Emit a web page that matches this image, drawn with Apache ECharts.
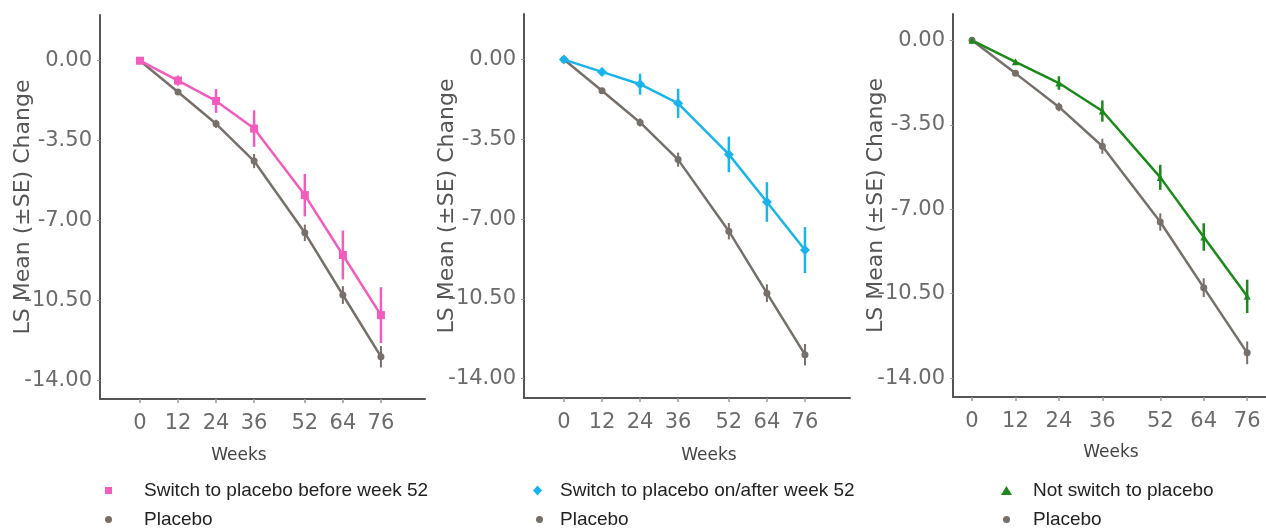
<!DOCTYPE html>
<html>
<head>
<meta charset="utf-8">
<title>LS Mean change from baseline by week</title>
<script src="https://cdn.jsdelivr.net/npm/echarts@6/dist/echarts.min.js"></script>
<style>
  html, body { margin: 0; padding: 0; background: #fff; }
  #chart { width: 1266px; height: 532px; }
</style>
</head>
<body>
<div id="chart"></div>
<script>
// weeks on the x axis, ticks on the y axis
const weeks = [0, 12, 24, 36, 52, 64, 76]
const yTicks = [0, -3.5, -7, -10.5, -14]

// placebo group (same in all three panels)
const placeboMean = [0, -1.37, -2.76, -4.39, -7.53, -10.25, -12.95]
const placeboSE = [0, 0.09, 0.18, 0.31, 0.36, 0.39, 0.47]

// switch to placebo before week 52
const beforeMean = [0, -0.87, -1.76, -2.97, -5.88, -8.5, -11.13]
const beforeSE = [0, 0.22, 0.52, 0.8, 0.93, 1.07, 1.22]

// switch to placebo on/after week 52
const afterMean = [0, -0.54, -1.08, -1.92, -4.16, -6.25, -8.36]
const afterSE = [0, 0.18, 0.46, 0.64, 0.78, 0.87, 1.01]

// not switch to placebo
const notMean = [0, -0.89, -1.77, -2.93, -5.68, -8.15, -10.61]
const notSE = [0, 0.08, 0.28, 0.44, 0.52, 0.57, 0.69]

const GRAY = '#776f6a'
const PINK = '#f25cbd'
const BLUE = '#1ab4ec'
const GREEN = '#1b8a1b'
const tickFont = 'DejaVu Sans, Verdana, sans-serif'
const legendFont = 'Liberation Sans, Arial, sans-serif'

function makeGrid(left, top, width, height) {
  return { left, top, width, height, outerBoundsMode: 'none' }
}

function makeX(idx, min, max) {
  return {
    type: 'value', gridIndex: idx, min, max,
    splitLine: { show: false },
    axisLine: { show: true, onZero: false, lineStyle: { color: '#555', width: 2 } },
    axisTick: { show: true, customValues: weeks, length: 4, lineStyle: { color: '#999', width: 1.5 } },
    axisLabel: { customValues: weeks, margin: 14, color: '#6b6b6b', fontSize: 21, fontFamily: tickFont }
  }
}

function makeY(idx, min, max) {
  return {
    type: 'value', gridIndex: idx, min, max,
    name: 'LS Mean (±SE) Change',
    nameLocation: 'middle',
    nameGap: 66,
    nameMoveOverlap: false,
    nameTextStyle: { fontSize: 22, color: '#555', fontFamily: tickFont },
    splitLine: { show: false },
    axisLine: { show: true, onZero: false, lineStyle: { color: '#555', width: 2 } },
    axisTick: { show: true, customValues: yTicks, length: 3, lineStyle: { color: '#999' } },
    axisLabel: {
      customValues: yTicks, margin: 8, color: '#6b6b6b', fontSize: 21, fontFamily: tickFont,
      formatter: v => v.toFixed(2)
    }
  }
}

function lineSeries(name, idx, means, color, symbol, size) {
  return {
    name, type: 'line', xAxisIndex: idx, yAxisIndex: idx,
    data: weeks.map((w, i) => [w, means[i]]),
    symbol, symbolSize: size,
    itemStyle: { color },
    lineStyle: { color, width: 2.5 },
    z: 3
  }
}

function errorSeries(idx, means, se, color, width) {
  return {
    type: 'custom', xAxisIndex: idx, yAxisIndex: idx, silent: true,
    data: weeks.map((w, i) => [w, means[i] - se[i], means[i] + se[i]]),
    renderItem(params, api) {
      const lo = api.coord([api.value(0), api.value(1)])
      const hi = api.coord([api.value(0), api.value(2)])
      return {
        type: 'line',
        shape: { x1: lo[0], y1: lo[1], x2: hi[0], y2: hi[1] },
        style: { stroke: color, lineWidth: width }
      }
    },
    z: 2
  }
}

// one legend per row so the rows stay stacked
function legendRow(left, top, textX, name, icon, w, h) {
  return {
    left, top, padding: 0,
    itemWidth: w, itemHeight: h,
    selectedMode: false,
    textStyle: {
      fontSize: 19, color: '#222', fontFamily: legendFont,
      padding: [0, 0, 0, textX - left - w - 5]
    },
    data: [{ name, icon }]
  }
}

function weeksLabel(x, y) {
  return {
    type: 'text', x, y,
    style: { text: 'Weeks', fontSize: 17, fill: '#444', fontFamily: tickFont, align: 'center', verticalAlign: 'middle' }
  }
}

const chart = echarts.init(document.getElementById('chart'))
chart.setOption({
  animation: false,
  grid: [
    makeGrid(100, 15, 325, 384),
    makeGrid(524, 14, 326, 384),
    makeGrid(953, 14, 313, 383)
  ],
  xAxis: [
    makeX(0, -12.6, 89.9),
    makeX(1, -12.6, 90.2),
    makeX(2, -5.25, 81.2)
  ],
  yAxis: [
    makeY(0, -14.8, 2.0),
    makeY(1, -14.85, 2.0),
    makeY(2, -14.78, 1.09)
  ],
  legend: [
    legendRow(105, 481, 144, 'Switch to placebo before week 52', 'rect', 7, 7),
    legendRow(105, 510, 144, 'Placebo', 'circle', 7, 7),
    legendRow(533, 481, 560, 'Switch to placebo on/after week 52', 'diamond', 9, 10),
    legendRow(536, 510, 560, 'Placebo', 'circle', 7, 7),
    legendRow(1001, 481, 1033, 'Not switch to placebo', 'triangle', 11, 9),
    legendRow(1003, 510, 1033, 'Placebo', 'circle', 7, 7)
  ],
  graphic: [
    weeksLabel(239, 456),
    weeksLabel(709, 456),
    weeksLabel(1111, 453)
  ],
  series: [
    errorSeries(0, placeboMean, placeboSE, GRAY, 2),
    lineSeries('Placebo', 0, placeboMean, GRAY, 'circle', 7),
    errorSeries(0, beforeMean, beforeSE, PINK, 2.5),
    lineSeries('Switch to placebo before week 52', 0, beforeMean, PINK, 'rect', 8),

    errorSeries(1, placeboMean, placeboSE, GRAY, 2),
    lineSeries('Placebo', 1, placeboMean, GRAY, 'circle', 7),
    errorSeries(1, afterMean, afterSE, BLUE, 2.5),
    lineSeries('Switch to placebo on/after week 52', 1, afterMean, BLUE, 'diamond', 10),

    errorSeries(2, placeboMean, placeboSE, GRAY, 2),
    lineSeries('Placebo', 2, placeboMean, GRAY, 'circle', 7),
    errorSeries(2, notMean, notSE, GREEN, 2.5),
    lineSeries('Not switch to placebo', 2, notMean, GREEN, 'triangle', 7)
  ]
})
</script>
</body>
</html>
